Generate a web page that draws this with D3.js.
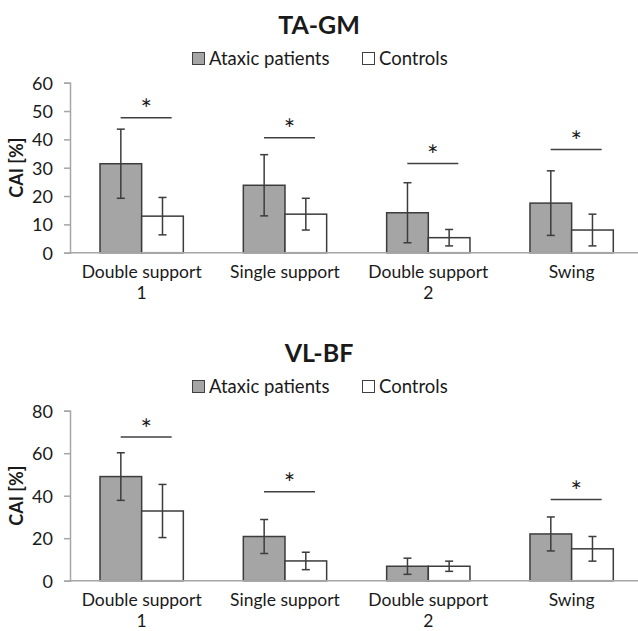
<!DOCTYPE html>
<html>
<head>
<meta charset="utf-8">
<script src="https://cdn.jsdelivr.net/npm/d3@7"></script>
<style>
    body { margin: 0; background: #fff; }
    text { font-family: Lato, "Noto Sans", sans-serif; fill: #1a1a1a; }
</style>
</head>
<body>
<svg id="chart" width="638" height="631"></svg>
<script>
// Data (mean and SD in CAI %)
var categories = ["Double support|1", "Single support", "Double support|2", "Swing"];
var series = ["Ataxic patients", "Controls"];

var tagmAtaxic = [31.4, 23.8, 14.1, 17.5];
var tagmAtaxicSd = [12.2, 10.8, 10.6, 11.4];
var tagmControls = [12.9, 13.6, 5.3, 8.0];
var tagmControlsSd = [6.6, 5.6, 2.9, 5.6];
var tagmSignif = [47.6, 40.6, 31.5, 36.4];
var tagmTicks = [0, 10, 20, 30, 40, 50, 60];

var vlbfAtaxic = [49.0, 20.8, 6.8, 22.0];
var vlbfAtaxicSd = [11.2, 8.0, 3.8, 8.0];
var vlbfControls = [32.8, 9.3, 6.8, 15.0];
var vlbfControlsSd = [12.5, 4.1, 2.4, 5.8];
var vlbfSignif = [67.6, 41.9, null, 38.2];
var vlbfTicks = [0, 20, 40, 60, 80];

var fills = ["#a5a5a5", "#ffffff"];
var svg = d3.select("#chart");

function drawPanel(top, title, means, sds, signif, ticks) {
    var g = svg.append("g").attr("transform", "translate(0," + top + ")");
    var left = 70, right = 643.3;
    var y0 = 252.7, y1 = 82.7;

    var y = d3.scaleLinear().domain([0, ticks[ticks.length - 1]]).range([y0, y1]);
    var x0 = d3.scaleBand().domain(categories).range([left, right]);
    var x1 = d3.scaleBand().domain(series).range([0, x0.bandwidth()]).paddingOuter(0.72);

    // title + legend
    g.append("text").attr("x", 319).attr("y", 34)
        .attr("text-anchor", "middle")
        .style("font-size", "25px").style("font-weight", "bold")
        .text(title);

    var legX = [192, 362];
    series.forEach(function(s, i) {
        g.append("rect").attr("x", legX[i] + 0.5).attr("y", 52.5)
            .attr("width", 12).attr("height", 12)
            .attr("fill", fills[i]).attr("stroke", "#404040").attr("stroke-width", 1);
        g.append("text").attr("x", legX[i] + 17).attr("y", 65)
            .style("font-size", "18.5px").text(s);
    });

    // y axis
    var yAxis = d3.axisLeft(y).tickValues(ticks).tickSize(6).tickPadding(11);
    var ya = g.append("g").attr("transform", "translate(" + left + ",0)").call(yAxis);
    ya.select(".domain").attr("stroke", "#a6a6a6").attr("stroke-width", 1.5);
    ya.selectAll(".tick line").attr("stroke", "#a6a6a6").attr("stroke-width", 1.5);
    ya.selectAll(".tick text").style("font-size", "18px").style("font-family", "Lato, sans-serif")
        .attr("fill", "#1a1a1a").attr("dy", "0.36em");

    g.append("text")
        .attr("transform", "translate(23," + ((y0 + y1) / 2) + ") rotate(-90)")
        .attr("text-anchor", "middle")
        .style("font-size", "18px").style("font-weight", "bold")
        .text("CAI [%]");

    // bars
    var rows = [];
    categories.forEach(function(c, i) {
        series.forEach(function(s, j) {
            rows.push({ cat: c, ser: s, k: j, v: means[j][i], sd: sds[j][i] });
        });
    });

    g.selectAll("rect.bar").data(rows).enter().append("rect")
        .attr("class", "bar")
        .attr("x", function(d) { return x0(d.cat) + x1(d.ser); })
        .attr("y", function(d) { return y(d.v); })
        .attr("width", x1.bandwidth())
        .attr("height", function(d) { return y0 - y(d.v); })
        .attr("fill", function(d) { return fills[d.k]; })
        .attr("stroke", "#3c3c3c").attr("stroke-width", 1.5);

    // x axis baseline
    g.append("line").attr("x1", left).attr("x2", 638).attr("y1", y0).attr("y2", y0)
        .attr("stroke", "#a6a6a6").attr("stroke-width", 1.5);

    // error bars
    var eb = g.selectAll("g.err").data(rows).enter().append("g").attr("class", "err")
        .attr("stroke", "#3c3c3c").attr("stroke-width", 1.5);
    eb.append("line")
        .attr("x1", function(d) { return x0(d.cat) + x1(d.ser) + x1.bandwidth() / 2; })
        .attr("x2", function(d) { return x0(d.cat) + x1(d.ser) + x1.bandwidth() / 2; })
        .attr("y1", function(d) { return y(d.v - d.sd); })
        .attr("y2", function(d) { return y(d.v + d.sd); });
    [-1, 1].forEach(function(sign) {
        eb.append("line")
            .attr("x1", function(d) { return x0(d.cat) + x1(d.ser) + x1.bandwidth() / 2 - 4; })
            .attr("x2", function(d) { return x0(d.cat) + x1(d.ser) + x1.bandwidth() / 2 + 4; })
            .attr("y1", function(d) { return y(d.v + sign * d.sd); })
            .attr("y2", function(d) { return y(d.v + sign * d.sd); });
    });

    // significance markers
    categories.forEach(function(c, i) {
        if (signif[i] == null) return;
        var cx = x0(c) + x0.bandwidth() / 2;
        var ly = y(signif[i]);
        g.append("line").attr("x1", cx - 21).attr("x2", cx + 30)
            .attr("y1", ly).attr("y2", ly)
            .attr("stroke", "#404040").attr("stroke-width", 1.5);
        g.append("text").attr("x", cx + 4.5).attr("y", ly + 1.5)
            .attr("text-anchor", "middle")
            .style("font-size", "27px")
            .text("*");
    });

    // category labels (two lines, one text each)
    categories.forEach(function(c) {
        var parts = c.split("|");
        parts.forEach(function(p, k) {
            g.append("text").attr("text-anchor", "middle")
                .attr("x", x0(c) + x0.bandwidth() / 2)
                .attr("y", y0 + 25 + k * 21)
                .style("font-size", "17.5px")
                .text(p);
        });
    });
}

drawPanel(0, "TA-GM", [tagmAtaxic, tagmControls], [tagmAtaxicSd, tagmControlsSd], tagmSignif, tagmTicks);
drawPanel(328, "VL-BF", [vlbfAtaxic, vlbfControls], [vlbfAtaxicSd, vlbfControlsSd], vlbfSignif, vlbfTicks);
</script>
</body>
</html>
